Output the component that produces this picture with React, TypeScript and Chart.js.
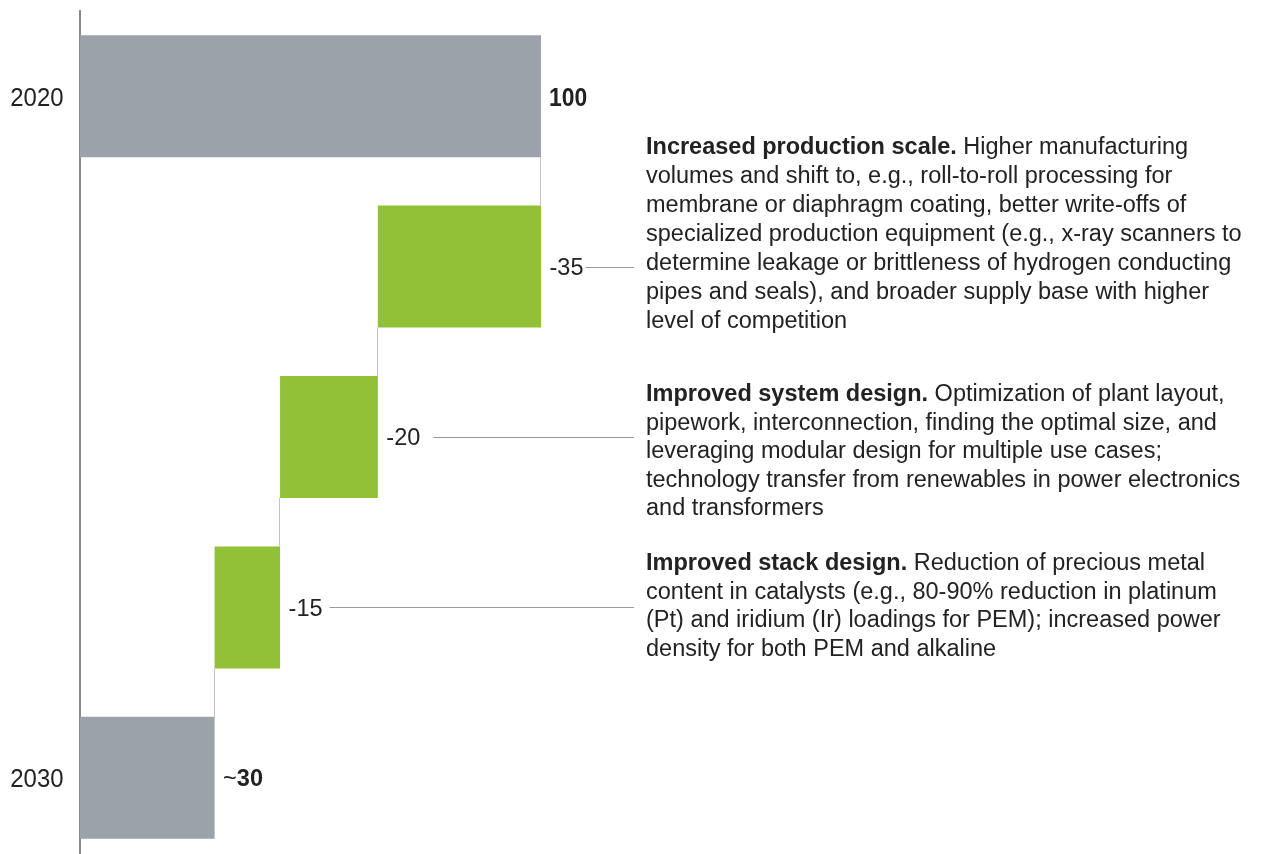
import React, { useEffect, useRef } from 'react';
import { Chart, registerables } from 'chart.js';

Chart.register(...registerables);

// ---- data ----
const categories = ['2020', 'Increased production scale', 'Improved system design', 'Improved stack design', '2030'];
const barKinds = ['total', 'step', 'step', 'step', 'total'];
const startTotal = 100;
const stepChanges = [-35.4, -21.2, -14.2];
const endTotal = 29.2;
const yearLabels = ['2020', '', '', '', '2030'];
const valueLabels = ['100', '-35', '-20', '-15', '~30'];

const noteTitles = ['Increased production scale.', 'Improved system design.', 'Improved stack design.'];
const noteFirstLines = [' Higher manufacturing', ' Optimization of plant layout,', ' Reduction of precious metal'];
const noteLines = [
  [
    'volumes and shift to, e.g., roll-to-roll processing for',
    'membrane or diaphragm coating, better write-offs of',
    'specialized production equipment (e.g., x-ray scanners to',
    'determine leakage or brittleness of hydrogen conducting',
    'pipes and seals), and broader supply base with higher',
    'level of competition',
  ],
  [
    'pipework, interconnection, finding the optimal size, and',
    'leveraging modular design for multiple use cases;',
    'technology transfer from renewables in power electronics',
    'and transformers',
  ],
  [
    'content in catalysts (e.g., 80-90% reduction in platinum',
    '(Pt) and iridium (Ir) loadings for PEM); increased power',
    'density for both PEM and alkaline',
  ],
];

// ---- styles / layout ----
const FAMILY = '"Liberation Sans", Arial, Helvetica, sans-serif';
const TEXT_COLOR = '#222222';
const GREY_BAR = '#9BA2AA';
const GREEN_BAR = '#92C036';
const CONNECTOR = '#c4c4c4';
const LEADER = '#9a9a9a';
const NOTE_X = 646;
const NOTE_SIZE = 23.5;
const NOTE_PITCHES = [29, 28.5, 28.5];
const NOTE_OFFSETS = [-112.3, -36, -37.4];
const LEADER_GAPS = [2, 13, 7];
const LEADER_END = 634;
const LABEL_GAP = 8.5;

// build floating bars from the read values
const ranges: [number, number][] = [];
const afterLevels: number[] = [];
ranges.push([0, startTotal]);
afterLevels.push(startTotal);
let level = startTotal;
for (const d of stepChanges) {
  ranges.push([level + d, level]);
  level += d;
  afterLevels.push(level);
}
ranges.push([0, endTotal]);

function drawText(ctx: CanvasRenderingContext2D, text: string, x: number, y: number, font: string, align: CanvasTextAlign, sx: number) {
  ctx.save();
  ctx.font = font;
  ctx.textAlign = align;
  ctx.textBaseline = 'alphabetic';
  ctx.fillStyle = TEXT_COLOR;
  ctx.translate(x, y);
  ctx.scale(sx, 1);
  ctx.fillText(text, 0, 0);
  const w = ctx.measureText(text).width * sx;
  ctx.restore();
  return w;
}

const waterfallPlugin = {
  id: 'waterfallDecor',
  afterDatasetsDraw(chart: any) {
    const ctx: CanvasRenderingContext2D = chart.ctx;
    const xs = chart.scales.x;
    const meta = chart.getDatasetMeta(0);
    const bars = meta.data;

    // connectors
    ctx.save();
    ctx.strokeStyle = CONNECTOR;
    ctx.lineWidth = 1;
    for (let i = 0; i < bars.length - 1; i++) {
      const a = bars[i];
      const b = bars[i + 1];
      const x = Math.round(xs.getPixelForValue(afterLevels[i])) - 0.5;
      ctx.beginPath();
      ctx.moveTo(x, a.y + a.height / 2);
      ctx.lineTo(x, b.y - b.height / 2);
      ctx.stroke();
    }
    ctx.restore();

    // year labels
    bars.forEach((bar: any, i: number) => {
      if (!yearLabels[i]) return;
      const size = 26;
      drawText(ctx, yearLabels[i], chart.chartArea.left - 16.5, bar.y + size * 0.358, `${size}px ${FAMILY}`, 'right', 0.92);
    });

    // value labels, leaders, notes
    let stepIdx = 0;
    bars.forEach((bar: any, i: number) => {
      const right = Math.max(xs.getPixelForValue(ranges[i][0]), xs.getPixelForValue(ranges[i][1]));
      const label = valueLabels[i];
      if (barKinds[i] === 'total') {
        if (label.startsWith('~')) {
          const size = 23.5;
          const base = bar.y + size * 0.358;
          const w = drawText(ctx, '~', right + LABEL_GAP, base, `${size}px ${FAMILY}`, 'left', 1);
          drawText(ctx, label.slice(1), right + LABEL_GAP + w, base, `bold ${size}px ${FAMILY}`, 'left', 1);
        } else {
          const size = 26;
          drawText(ctx, label, right + 8, bar.y + size * 0.358, `bold ${size}px ${FAMILY}`, 'left', 0.88);
        }
      } else {
        const size = 23.5;
        const w = drawText(ctx, label, right + LABEL_GAP, bar.y + size * 0.358, `${size}px ${FAMILY}`, 'left', 1);
        const ly = Math.round(bar.y) + 0.5;
        ctx.save();
        ctx.strokeStyle = LEADER;
        ctx.lineWidth = 1;
        ctx.beginPath();
        ctx.moveTo(right + LABEL_GAP + w + LEADER_GAPS[stepIdx], ly);
        ctx.lineTo(LEADER_END, ly);
        ctx.stroke();
        ctx.restore();

        const y0 = bar.y + NOTE_OFFSETS[stepIdx];
        const pitch = NOTE_PITCHES[stepIdx];
        const tw = drawText(ctx, noteTitles[stepIdx], NOTE_X, y0, `bold ${NOTE_SIZE}px ${FAMILY}`, 'left', 1);
        drawText(ctx, noteFirstLines[stepIdx], NOTE_X + tw, y0, `${NOTE_SIZE}px ${FAMILY}`, 'left', 1);
        noteLines[stepIdx].forEach((ln, k) => {
          drawText(ctx, ln, NOTE_X, y0 + pitch * (k + 1), `${NOTE_SIZE}px ${FAMILY}`, 'left', 1);
        });
        stepIdx++;
      }
    });
  },
};

export default function App() {
  const canvasRef = useRef<HTMLCanvasElement | null>(null);

  useEffect(() => {
    if (!canvasRef.current) return;
    const chart = new Chart(canvasRef.current, {
      type: 'bar',
      data: {
        labels: categories,
        datasets: [
          {
            data: ranges as any,
            backgroundColor: barKinds.map((k) => (k === 'total' ? GREY_BAR : GREEN_BAR)),
            borderWidth: 0,
            barPercentage: 0.716,
            categoryPercentage: 1,
          },
        ],
      },
      options: {
        indexAxis: 'y',
        animation: false,
        responsive: true,
        maintainAspectRatio: false,
        layout: { padding: { left: 72, right: 723, top: 11, bottom: 1 } },
        plugins: { legend: { display: false }, tooltip: { enabled: false } },
        scales: {
          x: { type: 'linear', min: 0, max: 100, display: false },
          y: {
            type: 'category',
            z: 1,
            grid: { display: false },
            ticks: { display: false },
            border: { display: true, color: '#888888', width: 2 },
          },
        },
      },
      plugins: [waterfallPlugin],
    });
    return () => chart.destroy();
  }, []);

  return (
    <div style={{ position: 'absolute', left: 0, top: 0, width: 1264, height: 854, overflow: 'hidden', background: '#fff' }}>
      <div style={{ position: 'relative', width: 1264, height: 864 }}>
        <canvas ref={canvasRef} />
      </div>
    </div>
  );
}
